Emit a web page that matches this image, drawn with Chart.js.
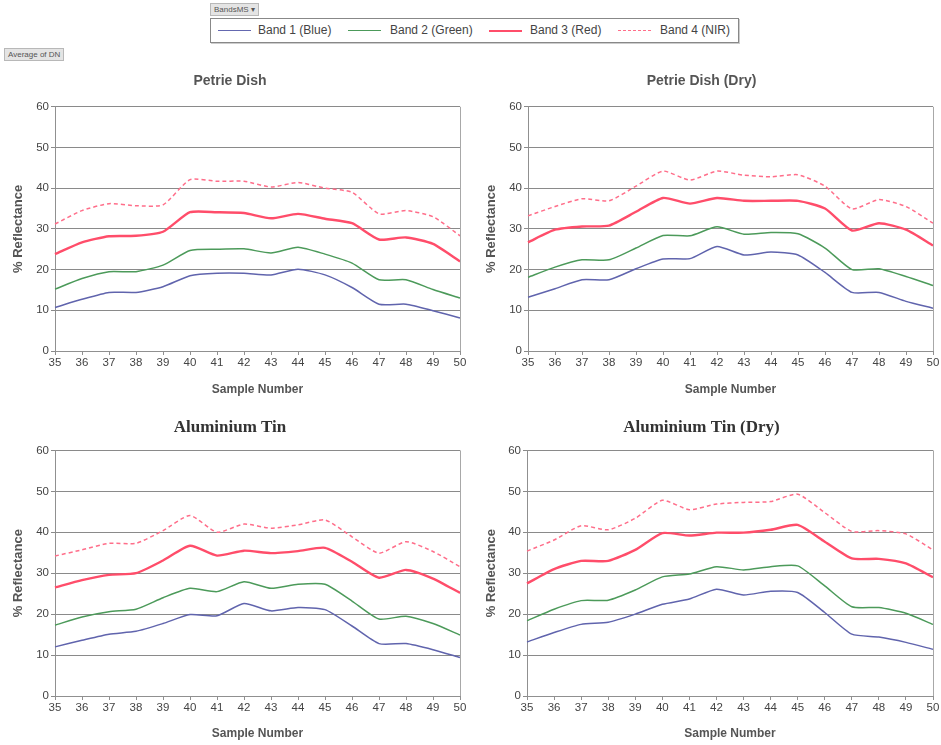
<!DOCTYPE html>
<html>
<head>
<meta charset="utf-8">
<script src="https://cdn.jsdelivr.net/npm/chart.js@4.4.1/dist/chart.umd.min.js"></script>
<style>
  html, body { margin: 0; padding: 0; background: #fff; }
  body { width: 941px; height: 745px; position: relative; overflow: hidden; font-family: "Liberation Sans", Arial, sans-serif; }
  .box { position: absolute; }
  .btn { position: absolute; background: #e4e4e4; border: 1px solid #b8b8b8; font-size: 8px; color: #555; line-height: 11px; padding: 0 3px; }
  #legend { position: absolute; left: 210px; top: 18px; width: 527px; height: 23px; border: 1px solid #888; box-shadow: 1px 1px 0 #ccc; font-size: 12px; color: #444; }
  .li { position: absolute; top: 4px; white-space: nowrap; }
  .ln { position: absolute; top: 11px; height: 0; }
</style>
</head>
<body>
<div class="btn" style="left:210px; top:3px;">BandsMS &#9662;</div>
<div class="btn" style="left:4px; top:48px;">Average of DN</div>
<div id="legend">
  <div class="ln" style="left:7px; width:33px; border-top:1.5px solid #6468b0;"></div>
  <div class="li" style="left:47px;">Band 1 (Blue)</div>
  <div class="ln" style="left:137px; width:33px; border-top:1.5px solid #4c9a5a;"></div>
  <div class="li" style="left:179px;">Band 2 (Green)</div>
  <div class="ln" style="left:278px; width:33px; border-top:2.5px solid #ff4d6a;"></div>
  <div class="li" style="left:319px;">Band 3 (Red)</div>
  <div class="ln" style="left:407px; width:33px; border-top:1.5px dashed #ff6e8a;"></div>
  <div class="li" style="left:449px;">Band 4 (NIR)</div>
</div>

<div class="box" style="left:0px; top:60px; width:470px; height:338px;"><canvas id="c1"></canvas></div>
<div class="box" style="left:470px; top:60px; width:471px; height:338px;"><canvas id="c2"></canvas></div>
<div class="box" style="left:0px; top:400px; width:470px; height:342px;"><canvas id="c3"></canvas></div>
<div class="box" style="left:470px; top:400px; width:471px; height:342px;"><canvas id="c4"></canvas></div>

<script>
// ---- Data ----
const samples = ['35','36','37','38','39','40','41','42','43','44','45','46','47','48','49','50'];
const seriesNames = ['Band 1 (Blue)', 'Band 2 (Green)', 'Band 3 (Red)', 'Band 4 (NIR)'];
const chartTitles = ['Petrie Dish', 'Petrie Dish (Dry)', 'Aluminium Tin', 'Aluminium Tin (Dry)'];

// Petrie Dish
const petrieBlue  = [10.7, 12.7, 14.4, 14.4, 15.8, 18.5, 19.1, 19.1, 18.7, 20.1, 18.7, 15.6, 11.5, 11.5, 9.9, 8.1];
const petrieGreen = [15.2, 17.8, 19.5, 19.5, 21.1, 24.7, 25.0, 25.1, 24.1, 25.5, 23.8, 21.6, 17.5, 17.5, 15.1, 13.0];
const petrieRed   = [23.8, 26.7, 28.2, 28.3, 29.3, 34.1, 34.1, 33.9, 32.6, 33.7, 32.5, 31.4, 27.4, 27.9, 26.3, 22.0];
const petrieNIR   = [31.2, 34.5, 36.2, 35.7, 35.9, 42.1, 41.7, 41.7, 40.3, 41.4, 40.0, 39.0, 33.7, 34.5, 33.0, 28.3];

// Petrie Dish (Dry)
const petrieDryBlue  = [13.2, 15.3, 17.5, 17.5, 20.2, 22.6, 22.7, 25.7, 23.6, 24.3, 23.6, 19.3, 14.4, 14.4, 12.2, 10.5];
const petrieDryGreen = [18.1, 20.6, 22.4, 22.4, 25.3, 28.4, 28.3, 30.5, 28.7, 29.1, 28.8, 25.3, 20.0, 20.2, 18.3, 16.1];
const petrieDryRed   = [26.7, 29.8, 30.6, 30.8, 34.2, 37.6, 36.2, 37.6, 36.9, 36.9, 36.9, 35.0, 29.6, 31.4, 29.8, 25.9];
const petrieDryNIR   = [33.2, 35.5, 37.4, 36.9, 40.5, 44.2, 42.0, 44.2, 43.2, 42.8, 43.3, 40.5, 34.9, 37.2, 35.5, 31.4];

// Aluminium Tin
const tinBlue  = [12.0, 13.6, 15.1, 15.8, 17.7, 19.9, 19.6, 22.6, 20.8, 21.6, 21.1, 17.1, 12.8, 12.8, 11.3, 9.4];
const tinGreen = [17.3, 19.3, 20.6, 21.2, 24.0, 26.3, 25.5, 27.9, 26.3, 27.3, 27.3, 23.2, 18.8, 19.5, 17.7, 14.9];
const tinRed   = [26.5, 28.3, 29.6, 30.0, 33.1, 36.7, 34.3, 35.5, 34.9, 35.4, 36.2, 32.8, 28.9, 30.8, 28.7, 25.2];
const tinNIR   = [34.2, 35.7, 37.3, 37.3, 40.4, 44.1, 40.0, 42.0, 41.0, 41.8, 43.0, 38.9, 34.9, 37.7, 35.3, 31.6];

// Aluminium Tin (Dry)
const tinDryBlue  = [13.2, 15.5, 17.5, 18.0, 20.0, 22.4, 23.7, 26.1, 24.7, 25.6, 25.3, 20.4, 15.1, 14.4, 13.1, 11.4];
const tinDryGreen = [18.4, 21.2, 23.3, 23.4, 25.9, 29.1, 29.8, 31.6, 30.8, 31.6, 31.8, 26.9, 21.8, 21.6, 20.2, 17.5];
const tinDryRed   = [27.5, 31.0, 33.0, 33.0, 35.7, 39.8, 39.2, 39.9, 39.9, 40.6, 41.8, 37.7, 33.6, 33.5, 32.4, 29.0];
const tinDryNIR   = [35.4, 38.1, 41.6, 40.6, 43.4, 47.8, 45.5, 46.9, 47.3, 47.5, 49.3, 44.8, 40.2, 40.4, 39.6, 35.7];

const yTicks = [0, 10, 20, 30, 40, 50, 60];

// ---- Styles ----
const lineStyles = [
  { color: '#6064ad', width: 1.5, dash: [] },
  { color: '#4c9a5a', width: 1.5, dash: [] },
  { color: '#ff4d6a', width: 2.4, dash: [] },
  { color: '#ff6e8a', width: 1.5, dash: [4, 3] }
];

const frame = {
  id: 'frame',
  afterDraw(chart) {
    const a = chart.chartArea, ctx = chart.ctx;
    ctx.save();
    ctx.strokeStyle = '#a8a8a8';
    ctx.lineWidth = 1;
    ctx.beginPath();
    ctx.moveTo(Math.round(a.right) + 0.5, a.top);
    ctx.lineTo(Math.round(a.right) + 0.5, a.bottom);
    ctx.stroke();
    ctx.restore();
  }
};

function makeChart(id, title, data, opts) {
  const ds = data.map((vals, i) => ({
    label: seriesNames[i],
    data: vals,
    borderColor: lineStyles[i].color,
    backgroundColor: lineStyles[i].color,
    borderWidth: lineStyles[i].width,
    borderDash: lineStyles[i].dash,
    pointRadius: 0,
    tension: 0.2,
    fill: false
  }));
  return new Chart(document.getElementById(id), {
    type: 'line',
    data: { labels: samples, datasets: ds },
    plugins: [frame],
    options: {
      responsive: true,
      maintainAspectRatio: false,
      animation: false,
      events: [],
      layout: { padding: { left: 0, right: opts.padRight, top: 0, bottom: 0 } },
      plugins: {
        legend: { display: false },
        tooltip: { enabled: false },
        title: {
          display: true,
          text: title,
          color: opts.titleColor,
          font: opts.titleFont,
          padding: opts.titlePad
        }
      },
      scales: {
        x: {
          type: 'category',
          offset: false,
          grid: { display: true, drawOnChartArea: false, drawTicks: true, tickLength: 4, color: '#909090' },
          border: { display: true, color: '#909090', width: 1 },
          ticks: { color: '#444', font: { family: 'Liberation Sans, Arial', size: 11.5 }, padding: 1, maxRotation: 0, autoSkip: false },
          title: { display: true, text: 'Sample Number', color: '#555', font: { family: 'Liberation Sans, Arial', size: 12, weight: 'bold' }, padding: { top: 6, bottom: 1 } },
          afterFit(scale) { scale.height = opts.xHeight; }
        },
        y: {
          min: 0, max: 60,
          afterBuildTicks(scale) { scale.ticks = yTicks.map(v => ({ value: v })); },
          grid: { display: true, drawOnChartArea: true, drawTicks: true, tickLength: 4, color: '#8a8a8a', lineWidth: 1 },
          border: { display: true, color: '#909090', width: 1 },
          ticks: { color: '#444', font: { family: 'Liberation Sans, Arial', size: 11.5 }, padding: 2 },
          title: { display: true, text: '% Reflectance', color: '#555', font: { family: 'Liberation Sans, Arial', size: 13, weight: 'bold' }, padding: { top: opts.yTitlePad, bottom: 0 } },
          afterFit(scale) { scale.width = opts.yWidth; }
        }
      }
    }
  });
}

const topTitle = { font: { family: 'Liberation Sans, Arial', size: 14, weight: 'bold' }, titleColor: '#555', titlePad: { top: 13, bottom: 17 } };
const botTitle = { font: { family: 'Liberation Serif, Times New Roman, serif', size: 17, weight: 'bold' }, titleColor: '#333', titlePad: { top: 17, bottom: 13 } };

makeChart('c1', chartTitles[0], [petrieBlue, petrieGreen, petrieRed, petrieNIR],
  { padRight: 10, yWidth: 55, xHeight: 47, yTitlePad: 11, titleFont: topTitle.font, titleColor: topTitle.titleColor, titlePad: topTitle.titlePad });
makeChart('c2', chartTitles[1], [petrieDryBlue, petrieDryGreen, petrieDryRed, petrieDryNIR],
  { padRight: 8, yWidth: 58, xHeight: 47, yTitlePad: 14, titleFont: topTitle.font, titleColor: topTitle.titleColor, titlePad: topTitle.titlePad });
makeChart('c3', chartTitles[2], [tinBlue, tinGreen, tinRed, tinNIR],
  { padRight: 10, yWidth: 55, xHeight: 46, yTitlePad: 11, titleFont: botTitle.font, titleColor: botTitle.titleColor, titlePad: botTitle.titlePad });
makeChart('c4', chartTitles[3], [tinDryBlue, tinDryGreen, tinDryRed, tinDryNIR],
  { padRight: 8, yWidth: 57, xHeight: 46, yTitlePad: 14, titleFont: botTitle.font, titleColor: botTitle.titleColor, titlePad: botTitle.titlePad });
</script>
</body>
</html>
